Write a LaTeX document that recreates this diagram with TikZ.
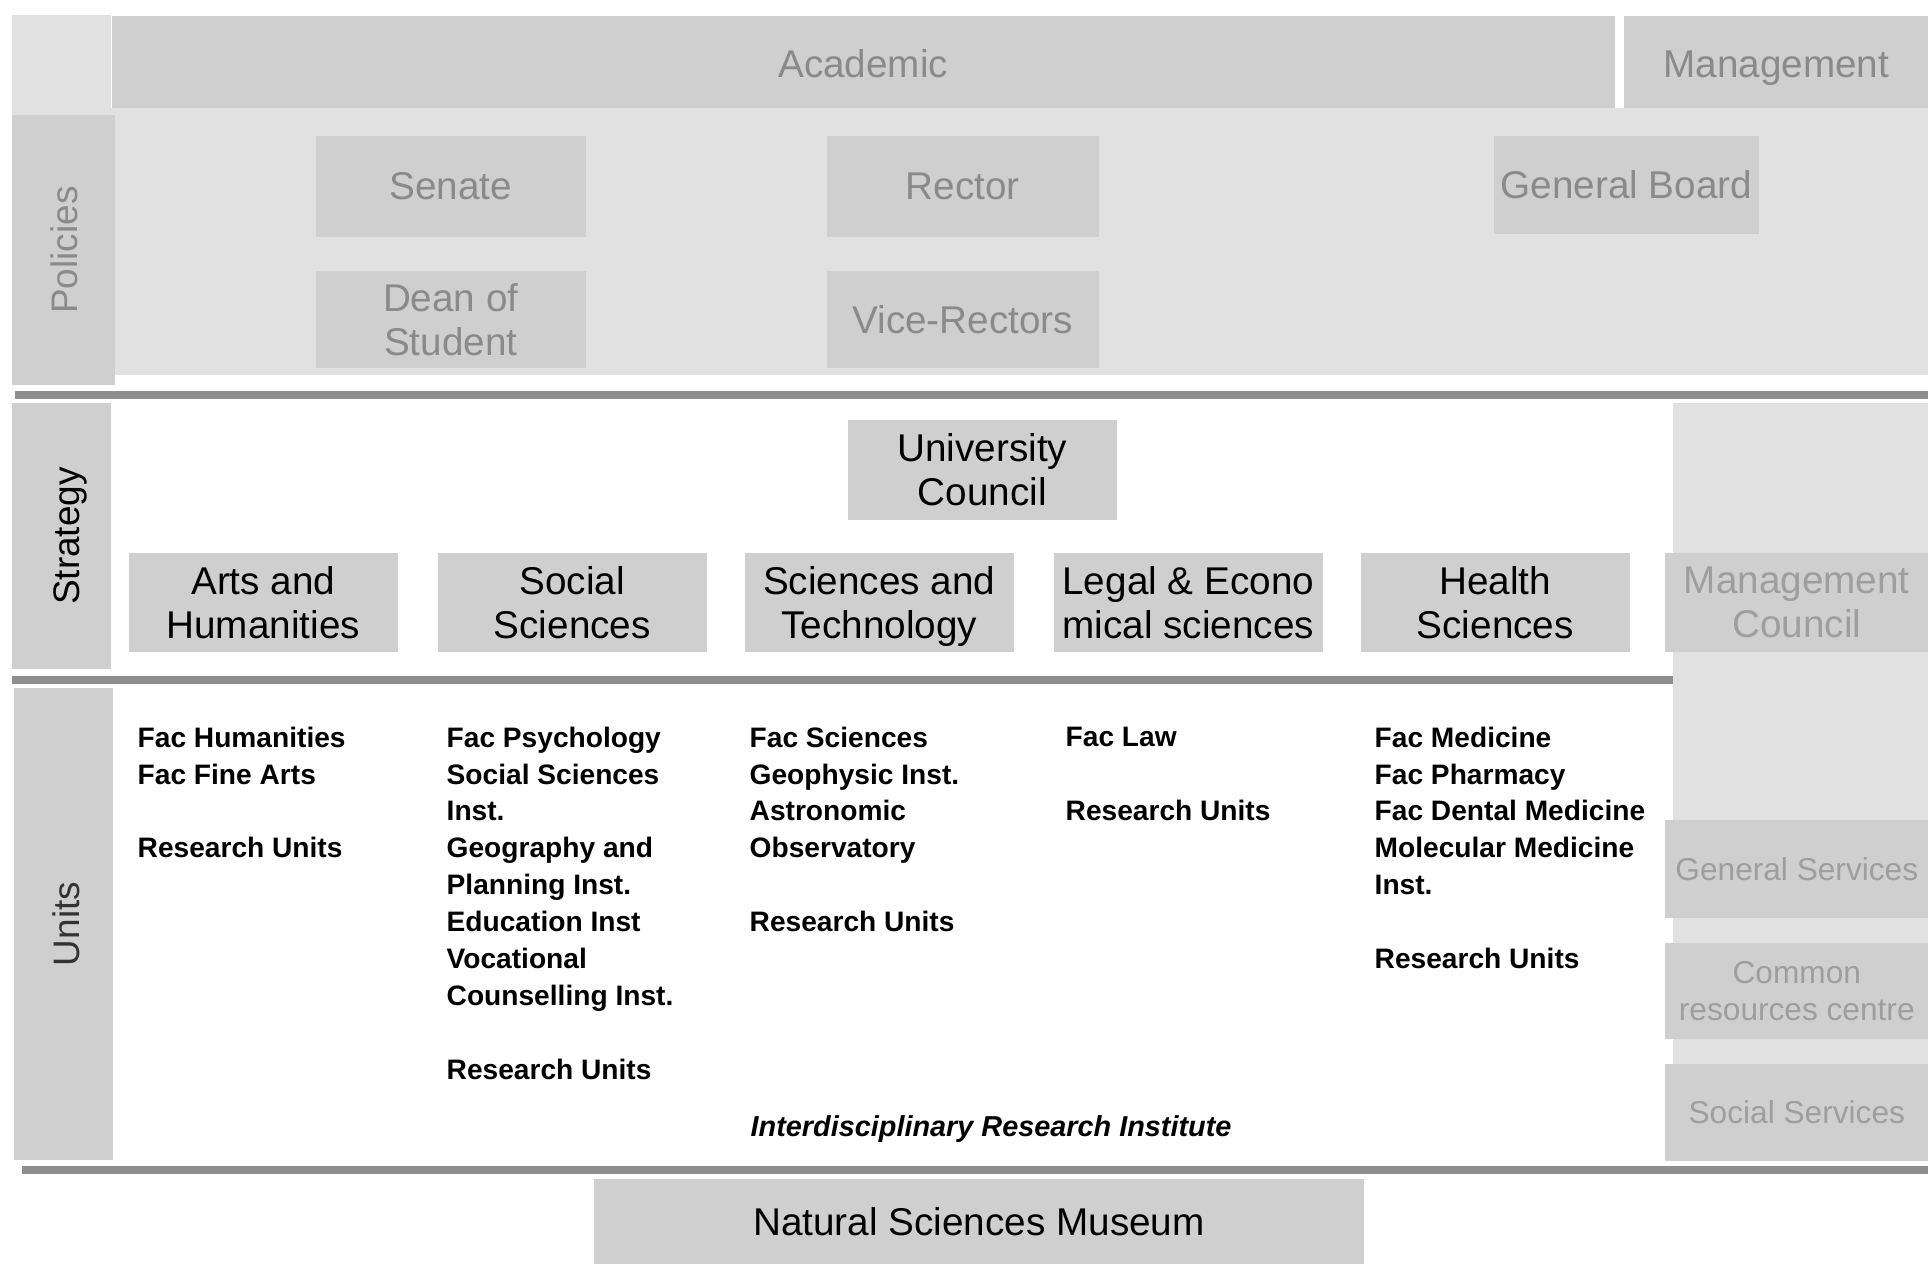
\documentclass[tikz,border=0pt]{standalone}
\usepackage{fontspec}
\setmainfont{Liberation Sans}
\usepackage{xcolor}
\usetikzlibrary{positioning,calc}

\definecolor{boxgrey}{HTML}{CFCFCF}
\definecolor{panelgrey}{HTML}{E1E1E1}
\definecolor{rulegrey}{HTML}{8E8E8E}
\definecolor{labelgrey}{HTML}{8A8A8A}
\definecolor{palegrey}{HTML}{9E9E9E}

\tikzset{
    box/.style={fill=boxgrey, inner sep=0pt, align=center, anchor=north west,
        text depth=0pt, font=\fontsize{11}{12.5}\selectfont},
    smallbox/.style={box, font=\fontsize{9}{10.5}\selectfont, text=palegrey},
    sideLabel/.style={rotate=90, text depth=0pt, font=\fontsize{10.5}{12}\selectfont},
    unitText/.style={align=left, anchor=north west, inner sep=0pt,
        font=\fontsize{8}{10.5}\selectfont\bfseries},
    sepLine/.style={draw=rulegrey, line width=0.08cm}
}

\begin{document}
\begin{tikzpicture}[x=0.01cm, y=-0.01cm]
    \useasboundingbox (0,0) rectangle (1928,1263);

    % Header row
    \fill[panelgrey] (12,15) rectangle (111,111);
    \node[box, text=labelgrey, minimum width=15.02cm, minimum height=0.96cm] (academic) at (111,15) {Academic};
    \node[box, text=labelgrey, minimum width=3.05cm, minimum height=0.96cm] (mgmt) at (1623,15) {Management};

    % Policies
    \fill[panelgrey] (12,108) rectangle (1928,375);
    \fill[boxgrey] (12,115) rectangle (115,385);
    \node[sideLabel, text=labelgrey] (policies) at (64,250) {Policies};
    \node[box, text=labelgrey, minimum width=2.70cm, minimum height=1.01cm] (senate) at (315,135) {Senate};
    \node[box, text=labelgrey, minimum width=2.72cm, minimum height=1.01cm] (rector) at (826,135) {Rector};
    \node[box, text=labelgrey, minimum width=2.65cm, minimum height=0.98cm] (board) at (1493,135) {General Board};
    \node[box, text=labelgrey, minimum width=2.70cm, minimum height=0.97cm] (dean) at (315,270) {Dean of\\Student};
    \node[box, text=labelgrey, minimum width=2.72cm, minimum height=0.97cm] (vice) at (826,270) {Vice-Rectors};

    \draw[sepLine] (15,395) -- (1928,395);

    % Strategy
    \fill[panelgrey] (1673,403) rectangle (1928,1160);
    \fill[boxgrey] (12,403) rectangle (111,669);
    \node[sideLabel, text=black] (strategy) at (67,536) {Strategy};
    \node[box, minimum width=2.69cm, minimum height=1.00cm] (council) at (847,419) {University\\Council};
    \foreach \n/\x/\t in {arts/128/{Arts and\\Humanities}, social/437/{Social\\Sciences},
        scitech/744/{Sciences and\\Technology}, legal/1053/{Legal \& Econo\\mical sciences},
        health/1360/{Health\\Sciences}} {
        \node[box, minimum width=2.69cm, minimum height=0.99cm] (\n) at (\x,552) {\t};
    }
    \node[box, text=palegrey, minimum width=2.64cm, minimum height=0.99cm] (mcouncil) at (1664,552) {Management\\Council};

    \draw[sepLine] (12,680) -- (1673,680);

    % Units
    \fill[boxgrey] (14,688) rectangle (113,1160);
    \node[sideLabel, text=black!80] (units) at (66,924) {Units};
    \node[unitText] (humcol) at (137,726) {Fac Humanities\\Fac Fine Arts\\[3.7mm]Research Units};
    \node[unitText] (soccol) at (446,726) {Fac Psychology\\Social Sciences\\Inst.\\Geography and\\Planning Inst.\\Education Inst\\Vocational\\Counselling Inst.\\[3.7mm]Research Units};
    \node[unitText] (scicol) at (749,726) {Fac Sciences\\Geophysic Inst.\\Astronomic\\Observatory\\[3.7mm]Research Units};
    \node[unitText] (lawcol) at (1065,726) {Fac Law\\[3.7mm]Research Units};
    \node[unitText] (medcol) at (1374,726) {Fac Medicine\\Fac Pharmacy\\Fac Dental Medicine\\Molecular Medicine\\Inst.\\[3.7mm]Research Units};
    \node[unitText, anchor=west, font=\fontsize{8.2}{10.5}\selectfont\bfseries\itshape] (interdisc) at (750,1129) {Interdisciplinary Research Institute};

    \node[smallbox, minimum width=2.64cm, minimum height=0.98cm] (general) at (1664,819) {General Services};
    \node[smallbox, minimum width=2.64cm, minimum height=0.96cm] (common) at (1664,942) {Common\\resources centre};
    \node[smallbox, minimum width=2.64cm, minimum height=0.97cm] (socserv) at (1664,1063) {Social Services};

    \draw[sepLine] (22,1170) -- (1928,1170);

    % Museum
    \node[box, minimum width=7.70cm, minimum height=0.85cm] (museum) at (593,1178) {Natural Sciences Museum};
\end{tikzpicture}
\end{document}
